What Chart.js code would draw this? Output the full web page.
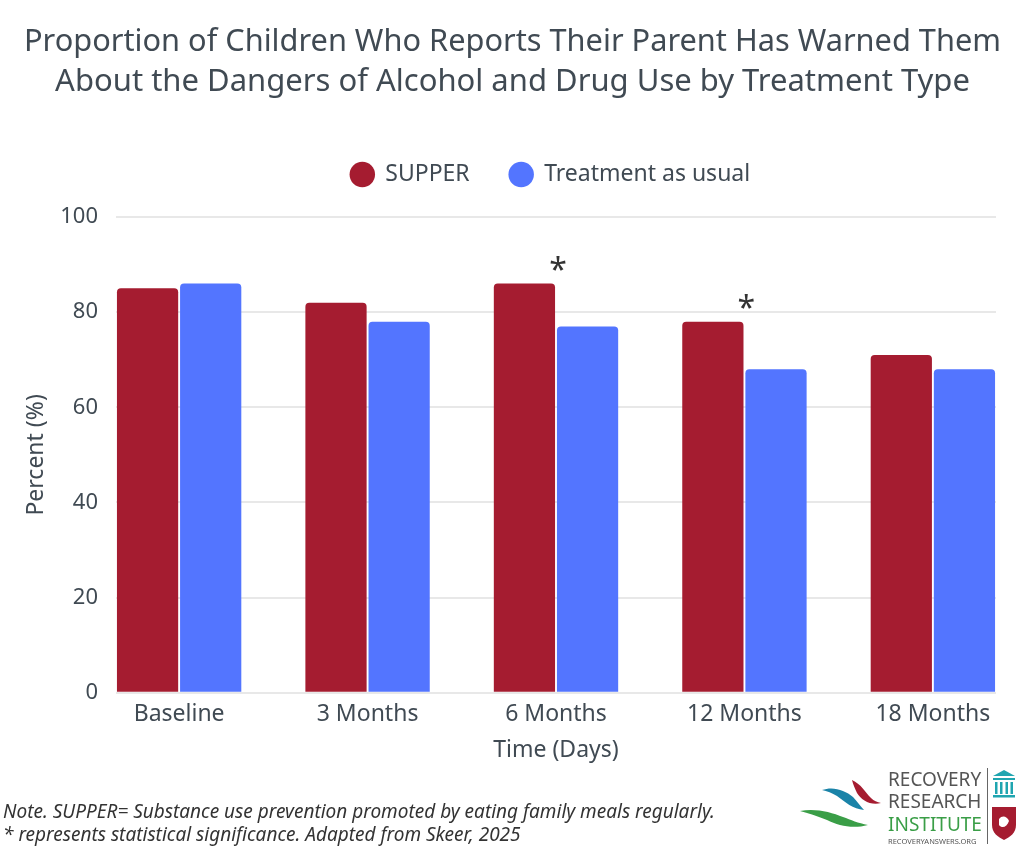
<!DOCTYPE html>
<html>
<head>
<meta charset="utf-8">
<script src="https://cdn.jsdelivr.net/npm/chart.js@4.4.1/dist/chart.umd.min.js"></script>
<style>
  body { margin: 0; background: #fff; }
  #wrap { position: relative; width: 1024px; height: 850px; font-family: 'Noto Sans', sans-serif; }
  #myChart { position: absolute; left: 0; top: 0; }
  .note { position: absolute; left: 3px; font-style: italic; font-size: 19px; line-height: 23px; color: #333; white-space: nowrap; }
  #logo { position: absolute; left: 795px; top: 762px; width: 229px; height: 88px; }
  .lt { position: absolute; left: 93px; font-size: 19px; color: #555; line-height: 22px; }
</style>
</head>
<body>
<div id="wrap">
  <canvas id="myChart" width="1024" height="850"></canvas>
  <div class="note" style="top:800px">Note. SUPPER= Substance use prevention promoted by eating family meals regularly.</div>
  <div class="note" style="top:823px">* represents statistical significance. Adapted from Skeer, 2025</div>
  <div id="logo">
    <svg width="100" height="88" style="position:absolute;left:0;top:0">
      <path d="M57 18 C66 22 70 30 76 36 C79 39 82 40 86 41 C76 44 66 38 62 31 C60 27 58 22 57 18 Z" fill="#a51c30"/>
      <path d="M27 28 C38 24 50 28 58 35 C62 39 65 44 69 48 C58 47 50 40 42 34 C37 31 32 29 27 28 Z" fill="#1a83a8"/>
      <path d="M5 49 C20 46 36 50 48 55 C56 58 63 61 73 63 C58 67 44 64 32 58 C22 54 13 51 5 49 Z" fill="#3a9e47"/>
    </svg>
    <div class="lt" style="top:6px">RECOVERY</div>
    <div class="lt" style="top:28px">RESEARCH</div>
    <div class="lt" style="top:51px;color:#3a9e47">INSTITUTE</div>
    <div class="lt" style="top:74px;font-size:7.5px;line-height:10px">RECOVERYANSWERS.ORG</div>
    <div style="position:absolute;left:192px;top:6px;width:1px;height:76px;background:#666"></div>
    <svg width="30" height="80" style="position:absolute;left:197px;top:6px">
      <path d="M1 8 L12 2 L23 8 Z" fill="#1fa5b0"/>
      <rect x="1" y="10" width="22" height="2" fill="#1fa5b0"/>
      <rect x="3" y="14" width="2.5" height="12" fill="#1fa5b0"/>
      <rect x="8" y="14" width="2.5" height="12" fill="#1fa5b0"/>
      <rect x="13.5" y="14" width="2.5" height="12" fill="#1fa5b0"/>
      <rect x="18.5" y="14" width="2.5" height="12" fill="#1fa5b0"/>
      <rect x="1" y="27" width="22" height="2.5" fill="#1fa5b0"/>
      <path d="M0 39 L24 39 L24 57 C24 65 18 69 12 72 C6 69 0 65 0 57 Z" fill="#a51c30"/>
      <path d="M7 51 C10 47 15 48 17 53 C15 59 10 61 7 57 Z" fill="#fff"/>
    </svg>
  </div>
</div>
<script>
const categories = ['Baseline', '3 Months', '6 Months', '12 Months', '18 Months'];
const supper = [85, 82, 86, 78, 71];
const usual = [86, 78, 77, 68, 68];
const significant = [false, false, true, true, false];
const yTicks = [0, 20, 40, 60, 80, 100];

const textColor = '#404a53';
const fontFamily = "'Noto Sans', sans-serif";

// asterisks above the groups that differ significantly
const starPlugin = {
    id: 'stars',
    afterDatasetsDraw(chart) {
        const c = chart.ctx;
        const xs = chart.scales.x;
        const ys = chart.scales.y;
        c.save();
        c.fillStyle = '#333';
        c.font = '32px ' + fontFamily;
        c.textAlign = 'center';
        c.textBaseline = 'middle';
        for (let i = 0; i < categories.length; i++) {
            if (!significant[i]) continue;
            const top = ys.getPixelForValue(Math.max(supper[i], usual[i]));
            c.fillText('*', xs.getPixelForValue(i) + 2, top - 12);
        }
        c.restore();
    }
};

// more room under the legend, and legend/title nudged to where the original has them
const legendGap = {
    id: 'legendGap',
    beforeInit(chart) {
        const fit = chart.legend.fit;
        chart.legend.fit = function () {
            fit.bind(chart.legend)();
            this.height += 21;
        };
    },
    afterLayout(chart) {
        chart.legend.left += 43;
        chart.legend.right += 43;
        chart.titleBlock.left += 5;
        chart.titleBlock.right += 5;
    }
};

const ctx = document.getElementById('myChart');

const data = {
    datasets: [{
        label: 'SUPPER',
        data: supper.map((v, i) => ({ x: i, y: v })),
        backgroundColor: '#a51c30',
        borderRadius: 4,
        borderSkipped: 'start',
        categoryPercentage: 0.67,
        barPercentage: 0.97,
    }, {
        label: 'Treatment as usual',
        data: usual.map((v, i) => ({ x: i, y: v })),
        backgroundColor: '#5375ff',
        borderRadius: 4,
        borderSkipped: 'start',
        categoryPercentage: 0.67,
        barPercentage: 0.97,
    }],
};

const config = {
    type: 'bar',
    data: data,
    plugins: [starPlugin, legendGap],
    options: {
        responsive: false,
        animation: false,
        layout: { padding: { left: 19, right: 28, top: 12, bottom: 82 } },
        plugins: {
            title: {
                display: true,
                text: ['Proportion of Children Who Reports Their Parent Has Warned Them',
                       'About the Dangers of Alcohol and Drug Use by Treatment Type'],
                color: textColor,
                font: { family: fontFamily, size: 31, weight: 'normal', lineHeight: 1.29 },
                padding: { top: 10, bottom: 21 },
            },
            legend: {
                labels: {
                    usePointStyle: true,
                    pointStyle: 'circle',
                    boxHeight: 18,
                    color: textColor,
                    font: { family: fontFamily, size: 23 },
                    padding: 40,
                },
            },
            tooltip: { enabled: false },
        },
        scales: {
            x: {
                type: 'linear',
                offset: false,
                min: -0.335,
                max: 4.335,
                afterBuildTicks: s => { s.ticks = categories.map((c, i) => ({ value: i })); },
                ticks: {
                    callback: v => categories[v],
                    color: textColor,
                    font: { family: fontFamily, size: 23 },
                    padding: 8,
                },
                grid: { display: false, drawTicks: false },
                border: { display: false },
                title: {
                    display: true,
                    text: 'Time (Days)',
                    color: textColor,
                    font: { family: fontFamily, size: 23 },
                    padding: { top: 0, bottom: 4 },
                },
            },
            y: {
                min: 0,
                max: 100,
                afterBuildTicks: s => { s.ticks = yTicks.map(v => ({ value: v })); },
                afterFit: s => { s.width = 97; },
                ticks: {
                    color: textColor,
                    font: { family: fontFamily, size: 22 },
                    padding: 18,
                },
                grid: { color: '#e8e8e8', lineWidth: 2, drawTicks: false },
                border: { display: false },
                title: {
                    display: true,
                    text: 'Percent (%)',
                    color: textColor,
                    font: { family: fontFamily, size: 23 },
                    padding: { top: 4, bottom: 4 },
                },
            },
        },
    },
};

const myChart = new Chart(ctx, config);
</script>
</body>
</html>
